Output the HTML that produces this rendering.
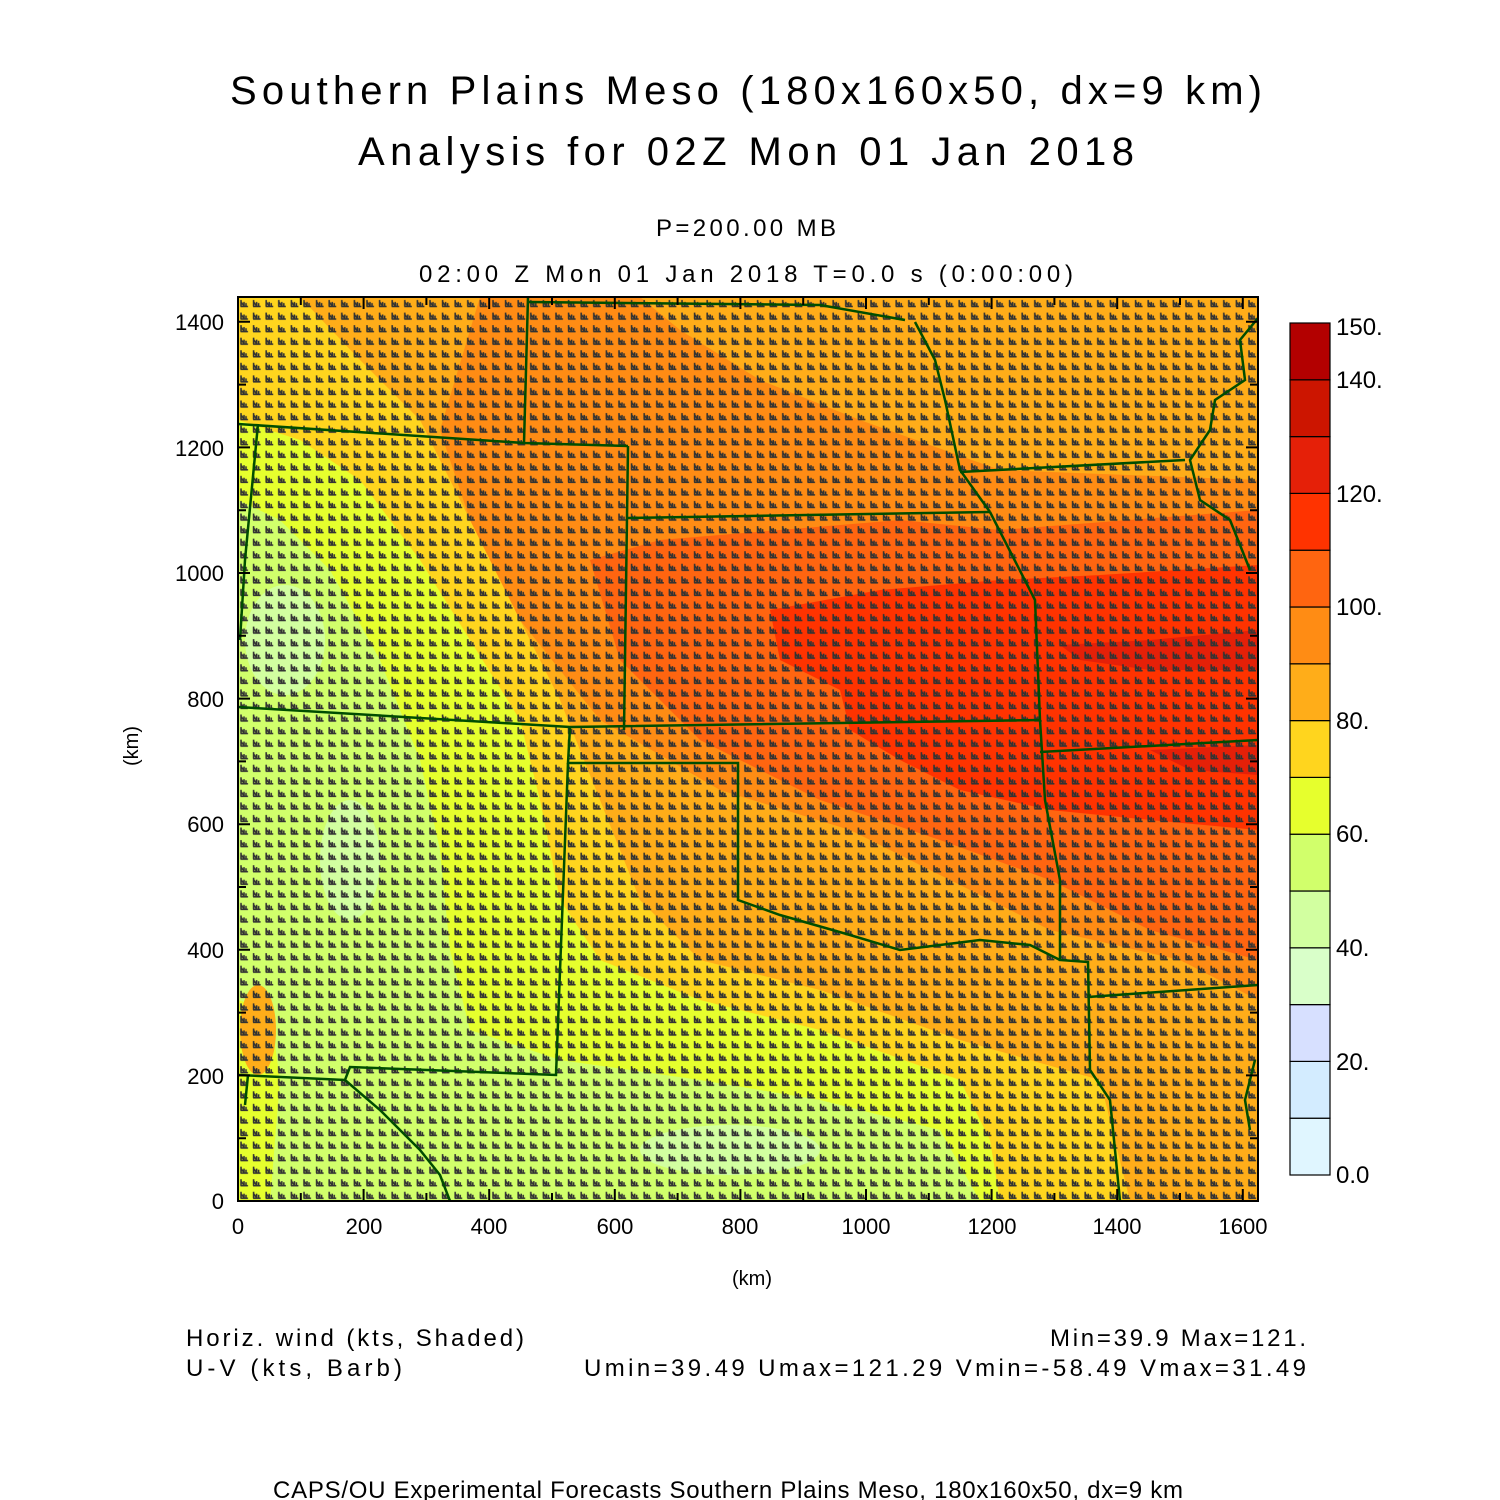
<!DOCTYPE html>
<html><head><meta charset="utf-8"><style>
html,body{margin:0;padding:0;background:#fff}
svg{display:block}
text{font-family:"Liberation Sans",sans-serif;fill:#000}
</style></head><body>
<svg width="1500" height="1500" viewBox="0 0 1500 1500" xmlns="http://www.w3.org/2000/svg">
<defs>
<pattern id="barb" x="238" y="297" width="12.6" height="12.56" patternUnits="userSpaceOnUse">
<path d="M2.5,9.5 L10,9.5 M3,3 L3,9.5 M3,5 L6,9 M6,5 L6,9.5 M8,6 L8,9.5" stroke="#333" stroke-width="1.6" fill="none"/>
</pattern>
<clipPath id="plot"><rect x="238" y="297" width="1020" height="904"/></clipPath>
</defs>
<rect width="1500" height="1500" fill="#fff"/>

<text x="746" y="104" font-size="40" text-anchor="middle" textLength="1032" lengthAdjust="spacing">Southern Plains Meso (180x160x50, dx=9 km)</text>
<text x="746" y="165" font-size="40" text-anchor="middle" textLength="776" lengthAdjust="spacing">Analysis for 02Z Mon 01 Jan 2018</text>
<text x="746" y="236" font-size="24" text-anchor="middle" textLength="180" lengthAdjust="spacing">P=200.00 MB</text>
<text x="746" y="282" font-size="24" text-anchor="middle" textLength="654" lengthAdjust="spacing">02:00 Z Mon 01 Jan 2018    T=0.0 s (0:00:00)</text>

<g clip-path="url(#plot)">
<rect x="238" y="297" width="1020" height="904" fill="#ffad19"/>
<!-- yellow west -->
<path d="M238,297 L300,297 L360,360 L420,420 L470,520 L520,620 L560,700 L600,800 L640,900 L700,960 L820,990 L960,1040 L1100,1080 L1130,1201 L238,1201 Z" fill="#ffd51e"/>
<!-- green 60-70 -->
<path d="M238,420 L300,440 L360,480 L420,560 L470,640 L520,720 L540,800 L560,900 L600,960 L700,1000 L820,1030 L960,1080 L990,1140 L1000,1201 L238,1201 Z" fill="#e6ff2d"/>
<!-- 50-60 -->
<path d="M238,500 L280,520 L330,570 L380,660 L420,760 L440,850 L450,950 L470,1030 L560,1060 L700,1080 L820,1100 L940,1130 L980,1201 L238,1201 Z" fill="#d1ff6b"/>
<!-- 40-50 spots -->
<ellipse cx="285" cy="640" rx="40" ry="55" fill="#d2ffa0"/>
<ellipse cx="350" cy="860" rx="30" ry="60" fill="#d2ffa0"/>
<ellipse cx="730" cy="1150" rx="90" ry="25" fill="#d2ffa0"/>
<!-- yellow back over lower-left area to leave green band -->
<path d="M238,1000 L270,1010 L280,1080 L270,1201 L238,1201 Z" fill="#e6ff2d"/>
<ellipse cx="258" cy="1030" rx="18" ry="45" fill="#ffad19"/>
<!-- 90-100 -->
<path d="M480,297 L640,297 L680,330 L760,380 L860,420 L1000,470 L1258,480 L1258,1000 L1180,960 L1050,930 L950,880 L850,830 L720,790 L600,720 L520,620 L470,520 L440,430 Z" fill="#ff8c14"/>
<!-- 100-110 -->
<path d="M590,560 L660,540 L780,530 L900,520 L1000,530 L1258,510 L1258,960 L1150,930 L1050,880 L940,840 L820,800 L700,740 L620,660 Z" fill="#ff6510"/>
<!-- 110-120 -->
<path d="M770,610 L880,590 L1000,580 L1100,575 L1258,565 L1258,830 L1150,820 L1050,810 L960,790 L900,760 L850,730 L840,690 L780,660 Z" fill="#ff3300"/>
<!-- 120-130 -->
<path d="M1060,645 L1150,640 L1258,630 L1258,670 L1150,670 L1080,660 Z" fill="#e52008"/>
<path d="M1150,750 L1258,745 L1258,775 L1190,770 Z" fill="#e52008"/>

<rect x="238" y="297" width="1020" height="904" fill="url(#barb)"/>

<g stroke="#004d00" stroke-width="2.5" fill="none">
<path d="M238,424 L524,443 L628,446"/>
<path d="M528,297 L524,443"/>
<path d="M628,446 L624,730"/>
<path d="M628,518 L990,512"/>
<path d="M238,707 L570,727 L1040,720"/>
<path d="M570,727 L568,763 L738,763 L738,900 L780,915 L850,935 L900,950 L940,945 L980,940 L1030,945 L1060,960"/>
<path d="M568,763 L556,1075 L350,1067 L345,1080 L238,1075"/>
<path d="M345,1080 L380,1110 L420,1150 L440,1175 L450,1201"/>
<path d="M990,512 L1035,600 L1040,720 L1045,800 L1060,880 L1060,960 L1088,962 L1090,1070 L1110,1100 L1115,1150 L1120,1201"/>
<path d="M1040,752 L1258,740"/>
<path d="M1088,997 L1258,985"/>
<path d="M960,472 L1185,460"/>
<path d="M915,322 L935,360 L945,400 L960,470 L990,512"/>
<path d="M528,302 L820,305 L905,320"/>
<path d="M1258,318 L1240,340 L1245,380 L1215,400 L1210,430 L1190,460 L1200,500 L1230,520 L1250,570"/>
<path d="M1258,320 L1258,330"/>
<path d="M258,424 L245,560 L240,640"/>
<path d="M248,1075 L245,1105"/>
<path d="M1255,1060 L1245,1100 L1250,1130"/>
</g>
</g>

<g stroke="#000" stroke-width="2" fill="none">
<rect x="238" y="297" width="1020" height="904"/>
<path d="M238,1201.0 h12 M238,1138.2 h8 M238,1075.4 h12 M238,1012.6 h8 M238,949.8 h12 M238,887 h8 M238,824.2 h12 M238,761.4 h8 M238,698.6 h12 M238,635.8 h8 M238,573 h12 M238,510.2 h8 M238,447.4 h12 M238,384.6 h8 M238,321.8 h12"/>
<path d="M1258,1138.2 h-8 M1258,1075.4 h-12 M1258,1012.6 h-8 M1258,949.8 h-12 M1258,887 h-8 M1258,824.2 h-12 M1258,761.4 h-8 M1258,698.6 h-12 M1258,635.8 h-8 M1258,573 h-12 M1258,510.2 h-8 M1258,447.4 h-12 M1258,384.6 h-8 M1258,321.8 h-12"/>
<path d="M300.8,1201 v-8 M363.6,1201 v-12 M426.4,1201 v-8 M489.2,1201 v-12 M552,1201 v-8 M614.8,1201 v-12 M677.6,1201 v-8 M740.4,1201 v-12 M803.2,1201 v-8 M866,1201 v-12 M928.8,1201 v-8 M991.6,1201 v-12 M1054.4,1201 v-8 M1117.2,1201 v-12 M1180,1201 v-8 M1242.8,1201 v-12"/>
<path d="M300.8,297 v8 M363.6,297 v12 M426.4,297 v8 M489.2,297 v12 M552,297 v8 M614.8,297 v12 M677.6,297 v8 M740.4,297 v12 M803.2,297 v8 M866,297 v12 M928.8,297 v8 M991.6,297 v12 M1054.4,297 v8 M1117.2,297 v12 M1180,297 v8 M1242.8,297 v12"/>
</g>

<g font-size="22" text-anchor="end">
<text x="224" y="1209">0</text>
<text x="224" y="1084">200</text>
<text x="224" y="958">400</text>
<text x="224" y="832">600</text>
<text x="224" y="707">800</text>
<text x="224" y="581">1000</text>
<text x="224" y="456">1200</text>
<text x="224" y="330">1400</text>
</g>
<g font-size="22" text-anchor="middle">
<text x="238" y="1234">0</text>
<text x="364" y="1234">200</text>
<text x="489" y="1234">400</text>
<text x="615" y="1234">600</text>
<text x="740" y="1234">800</text>
<text x="866" y="1234">1000</text>
<text x="992" y="1234">1200</text>
<text x="1117" y="1234">1400</text>
<text x="1243" y="1234">1600</text>
<text x="752" y="1285" font-size="20">(km)</text>
</g>
<text x="0" y="0" font-size="20" text-anchor="middle" transform="translate(138,746) rotate(-90)">(km)</text>

<g stroke="#000" stroke-width="1.2">
<rect x="1290" y="1118.2" width="40" height="56.8" fill="#e0f6ff"/>
<rect x="1290" y="1061.4" width="40" height="56.8" fill="#d3ecff"/>
<rect x="1290" y="1004.6" width="40" height="56.8" fill="#d7e0ff"/>
<rect x="1290" y="947.8" width="40" height="56.8" fill="#d9ffc9"/>
<rect x="1290" y="891" width="40" height="56.8" fill="#d2ffa0"/>
<rect x="1290" y="834.2" width="40" height="56.8" fill="#d1ff6b"/>
<rect x="1290" y="777.4" width="40" height="56.8" fill="#e6ff2d"/>
<rect x="1290" y="720.6" width="40" height="56.8" fill="#ffd51e"/>
<rect x="1290" y="663.8" width="40" height="56.8" fill="#ffad19"/>
<rect x="1290" y="607" width="40" height="56.8" fill="#ff8c14"/>
<rect x="1290" y="550.2" width="40" height="56.8" fill="#ff6510"/>
<rect x="1290" y="493.4" width="40" height="56.8" fill="#ff3300"/>
<rect x="1290" y="436.6" width="40" height="56.8" fill="#e52008"/>
<rect x="1290" y="379.8" width="40" height="56.8" fill="#cc1500"/>
<rect x="1290" y="323" width="40" height="56.8" fill="#b30000"/>
</g>
<g font-size="24">
<text x="1336" y="335">150.</text>
<text x="1336" y="388">140.</text>
<text x="1336" y="502">120.</text>
<text x="1336" y="615">100.</text>
<text x="1336" y="729">80.</text>
<text x="1336" y="842">60.</text>
<text x="1336" y="956">40.</text>
<text x="1336" y="1070">20.</text>
<text x="1336" y="1183">0.0</text>
</g>

<g font-size="24">
<text x="186" y="1346" textLength="338" lengthAdjust="spacing">Horiz. wind (kts, Shaded)</text>
<text x="186" y="1376" textLength="216" lengthAdjust="spacing">U-V (kts, Barb)</text>
<text x="1306" y="1346" text-anchor="end" textLength="256" lengthAdjust="spacing">Min=39.9 Max=121.</text>
<text x="1306" y="1376" text-anchor="end" textLength="722" lengthAdjust="spacing">Umin=39.49 Umax=121.29 Vmin=-58.49 Vmax=31.49</text>
<text x="728" y="1498" text-anchor="middle" textLength="910" lengthAdjust="spacing">CAPS/OU Experimental Forecasts  Southern Plains Meso, 180x160x50, dx=9 km</text>
</g>
</svg>
</body></html>
